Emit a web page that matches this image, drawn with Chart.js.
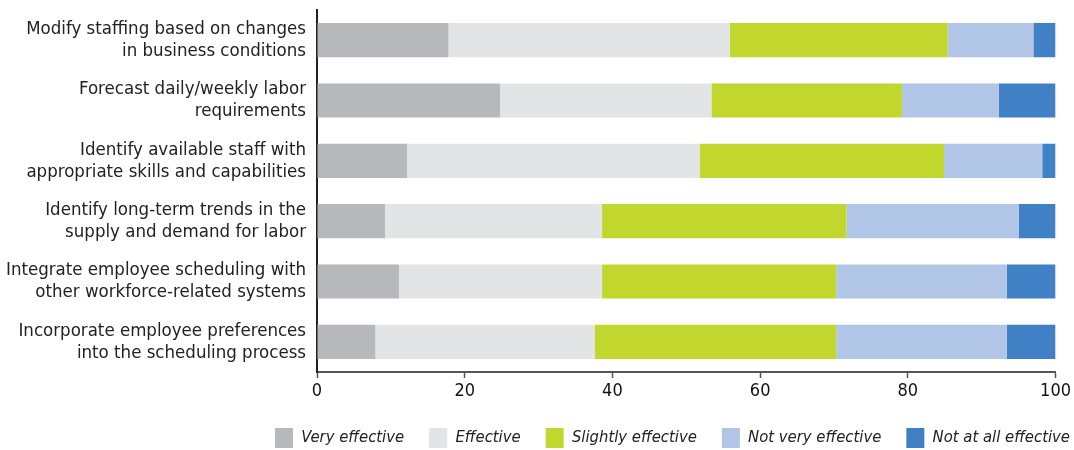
<!DOCTYPE html>
<html>
<head>
<meta charset="utf-8">
<script src="https://cdn.jsdelivr.net/npm/chart.js@4"></script>
<style>
  html, body { margin: 0; padding: 0; background: #fff; }
  #wrap { width: 1074px; height: 450px; }
</style>
</head>
<body>
<div id="wrap"><canvas id="chart"></canvas></div>
<script>
const categories = [
    ['Modify staffing based on changes', 'in business conditions'],
    ['Forecast daily/weekly labor', 'requirements'],
    ['Identify available staff with', 'appropriate skills and capabilities'],
    ['Identify long-term trends in the', 'supply and demand for labor'],
    ['Integrate employee scheduling with', 'other workforce-related systems'],
    ['Incorporate employee preferences', 'into the scheduling process']
];

const veryEffective     = [17.8, 24.8, 12.2, 9.2, 11.1, 7.9];
const effective         = [38.1, 28.6, 39.6, 29.4, 27.5, 29.7];
const slightlyEffective = [29.5, 25.8, 33.1, 33.1, 31.7, 32.7];
const notVeryEffective  = [11.6, 13.1, 13.3, 23.3, 23.1, 23.1];
const notAtAllEffective = [3.0, 7.7, 1.8, 5.0, 6.6, 6.6];

const xTicks = [0, 20, 40, 60, 80, 100];

const fontFamily = '"DejaVu Sans Condensed", "Liberation Sans Narrow", "Roboto", sans-serif';

function ds(label, data, color) {
    return {
        label: label,
        data: data,
        backgroundColor: color,
        borderWidth: 0,
        categoryPercentage: 1.0,
        barPercentage: 0.565
    };
}

new Chart(document.getElementById('chart').getContext('2d'), {
    type: 'bar',
    data: {
        labels: categories,
        datasets: [
            ds('Very effective', veryEffective, '#b7b8bc'),
            ds('Effective', effective, '#e3e4e6'),
            ds('Slightly effective', slightlyEffective, '#c2d72e'),
            ds('Not very effective', notVeryEffective, '#b1c5e6'),
            ds('Not at all effective', notAtAllEffective, '#4080c4')
        ]
    },
    options: {
        indexAxis: 'y',
        responsive: true,
        maintainAspectRatio: false,
        animation: false,
        // negative right/bottom padding lets the legend sit closer to the edge
        layout: {padding: {top: 10, right: -21, left: 4, bottom: -8}},
        scales: {
            x: {
                stacked: true,
                min: 0,
                max: 100,
                afterBuildTicks: axis => { axis.ticks = xTicks.map(v => ({value: v})); },
                afterFit: scale => { scale.height = 31; },
                grid: {drawOnChartArea: false, drawTicks: true, tickLength: 6, tickColor: '#555', tickWidth: 1.5},
                border: {display: true, color: '#555', width: 2},
                ticks: {color: '#111', font: {family: fontFamily, size: 18}, padding: 3}
            },
            y: {
                stacked: true,
                afterFit: scale => {
                    scale.width = 313;
                    scale.paddingTop = 0;
                    scale.paddingBottom = 0;
                },
                grid: {display: false},
                border: {display: true, color: '#222', width: 2},
                ticks: {color: '#222', font: {family: fontFamily, size: 18.5, lineHeight: 1.2}, padding: 3}
            }
        },
        plugins: {
            legend: {
                position: 'bottom',
                align: 'end',
                labels: {
                    boxWidth: 18,
                    boxHeight: 20,
                    padding: 25,
                    color: '#222',
                    font: {family: fontFamily, size: 16.5, style: 'italic'}
                }
            },
            tooltip: {enabled: false}
        }
    }
});
</script>
</body>
</html>
